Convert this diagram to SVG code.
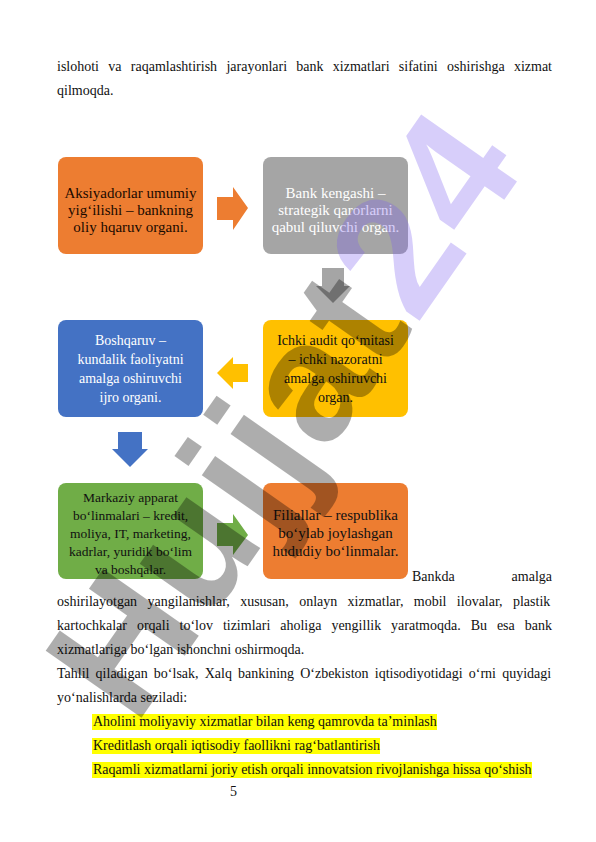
<svg xmlns="http://www.w3.org/2000/svg" width="596" height="842" viewBox="0 0 596 842">
<style>
.t{font-family:"Liberation Serif","Times New Roman",serif;font-size:14px;fill:#111}
.bx{font-family:"Liberation Serif","Times New Roman",serif;text-anchor:middle}
.hl{fill:#ffff00}
.wm{font-family:"Liberation Sans",Arial,sans-serif;font-weight:bold;font-size:170px;letter-spacing:3px}
</style>
<rect width="596" height="842" fill="#fff"/>
<g id="para-top" class="t">
<text x="57" y="71" word-spacing="5.79">islohoti va raqamlashtirish jarayonlari bank xizmatlari sifatini oshirishga xizmat</text>
<text x="57" y="95">qilmoqda.</text>
</g>
<g id="nodes">
<g id="n1"><rect x="58" y="157" width="145" height="97" rx="8" fill="#ED7D31"/>
<text class="bx" font-size="15" fill="#1a0a00"><tspan x="130.5" y="198">Aksiyadorlar umumiy</tspan><tspan x="130.5" y="215">yig‘ilishi – bankning</tspan><tspan x="130.5" y="232">oliy hqaruv organi.</tspan></text></g>
<g id="n2"><rect x="263" y="157" width="145" height="97" rx="8" fill="#A5A5A5"/>
<text class="bx" font-size="15" fill="#fff"><tspan x="335.5" y="198">Bank kengashi –</tspan><tspan x="335.5" y="215">strategik qarorlarni</tspan><tspan x="335.5" y="232">qabul qiluvchi organ.</tspan></text></g>
<g id="n3"><rect x="58" y="320" width="145" height="97" rx="8" fill="#4472C4"/>
<text class="bx" font-size="14" fill="#fff"><tspan x="130.5" y="345">Boshqaruv –</tspan><tspan x="130.5" y="364">kundalik faoliyatni</tspan><tspan x="130.5" y="383">amalga oshiruvchi</tspan><tspan x="130.5" y="402">ijro organi.</tspan></text></g>
<g id="n4"><rect x="263" y="320" width="145" height="97" rx="8" fill="#FFC000"/>
<text class="bx" font-size="14" fill="#111"><tspan x="335.5" y="345">Ichki audit qo‘mitasi</tspan><tspan x="335.5" y="364">– ichki nazoratni</tspan><tspan x="335.5" y="383">amalga oshiruvchi</tspan><tspan x="335.5" y="402">organ.</tspan></text></g>
<g id="n5"><rect x="58" y="483" width="145" height="96" rx="8" fill="#70AD47"/>
<text class="bx" font-size="13.5" fill="#111"><tspan x="130.5" y="502">Markaziy apparat</tspan><tspan x="130.5" y="520">bo‘linmalari – kredit,</tspan><tspan x="130.5" y="538">moliya, IT, marketing,</tspan><tspan x="130.5" y="556">kadrlar, yuridik bo‘lim</tspan><tspan x="130.5" y="574">va boshqalar.</tspan></text></g>
<g id="n6"><rect x="263" y="483" width="145" height="96" rx="8" fill="#ED7D31"/>
<text class="bx" font-size="15" fill="#111"><tspan x="335.5" y="520">Filiallar – respublika</tspan><tspan x="335.5" y="538">bo‘ylab joylashgan</tspan><tspan x="335.5" y="556">hududiy bo‘linmalar.</tspan></text></g>
</g>
<g id="connectors">
<polygon points="217,197 233,197 233,187 248,208 233,230 233,220 217,220" fill="#ED7D31"/>
<polygon points="322,268 344,268 344,286 350,286 333,303 316,286 322,286" fill="#A5A5A5"/>
<polygon points="248,364 233,364 233,357 217,373 233,389 233,382 248,382" fill="#FFC000"/>
<polygon points="118,432 142,432 142,449 148,449 130,467 112,449 118,449" fill="#4472C4"/>
<polygon points="217,523 233,523 233,514 248,535 233,555 233,546 217,546" fill="#70AD47"/>
</g>
<g id="body" class="t">
<text x="412" y="581">Bankda</text>
<text x="552" y="581" text-anchor="end">amalga</text>
<text x="57" y="606" word-spacing="6.89">oshirilayotgan yangilanishlar, xususan, onlayn xizmatlar, mobil ilovalar, plastik</text>
<text x="57" y="630" word-spacing="6.44">kartochkalar orqali to‘lov tizimlari aholiga yengillik yaratmoqda. Bu esa bank</text>
<text x="57" y="654">xizmatlariga bo‘lgan ishonchni oshirmoqda.</text>
<text x="57" y="678" word-spacing="2.64">Tahlil qiladigan bo‘lsak, Xalq bankining O‘zbekiston iqtisodiyotidagi o‘rni quyidagi</text>
<text x="57" y="702">yo‘nalishlarda seziladi:</text>
<rect class="hl" x="92" y="714" width="345" height="16"/>
<rect class="hl" x="92" y="738" width="288" height="16"/>
<rect class="hl" x="92" y="762" width="440" height="16"/>
<text x="93" y="726">Aholini moliyaviy xizmatlar bilan keng qamrovda ta’minlash</text>
<text x="93" y="750">Kreditlash orqali iqtisodiy faollikni rag‘batlantirish</text>
<text x="93" y="774">Raqamli xizmatlarni joriy etish orqali innovatsion rivojlanishga hissa qo‘shish</text>
<text x="230" y="796">5</text>
</g>
<g id="watermark">
<text class="wm" transform="translate(135,727) rotate(-55)"><tspan fill="#000" fill-opacity="0.32">Hujjat</tspan><tspan fill="#7b5cf0" fill-opacity="0.3">24</tspan></text>
</g>
</svg>
